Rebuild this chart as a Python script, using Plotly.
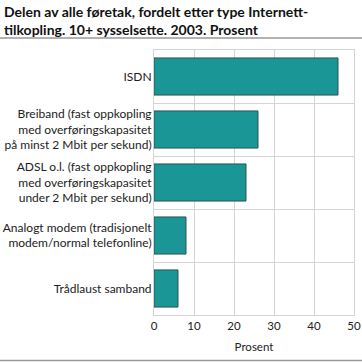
import plotly.graph_objects as go

categories = [
    "ISDN",
    "Breiband (fast oppkopling<br>med overføringskapasitet<br>på minst 2 Mbit per sekund)",
    "ADSL o.l. (fast oppkopling<br>med overføringskapasitet<br>under 2 Mbit per sekund)",
    "Analogt modem (tradisjonelt<br>modem/normal telefonline)",
    "Trådlaust samband",
]
values = [46, 26, 23, 8, 6]
x_ticks = [0, 10, 20, 30, 40, 50]

FONT = "Lato"
GRID = "#d4d4d4"
TEXT = "#222222"
FS = 11.5
FS_CAT = 12

fig = go.Figure()
fig.add_trace(go.Bar(
    x=values,
    y=categories,
    orientation="h",
    width=0.7,
    marker=dict(color="#1a9696", line=dict(color="#2f5252", width=1)),
    hoverinfo="x+y",
))

PLOT_TOP, PLOT_BOT = 50, 315
PLOT_L, PLOT_R = 154, 354
H = PLOT_BOT - PLOT_TOP
W = PLOT_R - PLOT_L

def py(px):
    return (PLOT_BOT - px) / H

def pxp(px):
    return (px - PLOT_L) / W

fig.update_layout(
    width=362,
    height=362,
    margin=dict(l=PLOT_L, r=362 - PLOT_R, t=PLOT_TOP, b=362 - PLOT_BOT, pad=0),
    paper_bgcolor="white",
    plot_bgcolor="white",
    showlegend=False,
    font=dict(family=FONT, size=FS, color=TEXT),
    xaxis=dict(
        range=[0, 50],
        tickvals=x_ticks,
        showgrid=True, gridcolor=GRID, gridwidth=1,
        showline=True, linecolor=GRID, linewidth=1, mirror=True,
        zeroline=False,
        ticks="",
        automargin=False,
        tickfont=dict(size=FS, color=TEXT),
        title=dict(text="Prosent", standoff=12, font=dict(size=FS, color=TEXT)),
        fixedrange=True,
    ),
    yaxis=dict(
        type="category",
        autorange="reversed",
        tickson="boundaries",
        showgrid=True, gridcolor=GRID, gridwidth=1,
        showline=True, linecolor=GRID, linewidth=1, mirror=True,
        ticks="",
        automargin=False,
        ticklabelstandoff=-1,
        tickfont=dict(size=FS_CAT, color=TEXT),
        fixedrange=True,
    ),
    annotations=[
        dict(
            text="<b>Delen av alle føretak, fordelt etter type Internett-<br>tilkopling. 10+ sysselsette. 2003. Prosent</b>",
            xref="paper", yref="paper",
            x=pxp(2), xanchor="left",
            y=py(1), yanchor="top",
            align="left", showarrow=False,
            font=dict(family=FONT, size=14, color="#111111"),
        ),
    ],
    shapes=[
        dict(type="line", xref="paper", yref="paper",
             x0=pxp(0), x1=pxp(362), y0=py(38), y1=py(38),
             line=dict(color="#999999", width=1.5)),
        dict(type="line", xref="paper", yref="paper",
             x0=pxp(0), x1=pxp(362), y0=py(360.5), y1=py(360.5),
             line=dict(color="#999999", width=1.5)),
    ],
)

fig.write_html("out.html", config={"displayModeBar": False},
               post_script="document.body.style.margin='0';")
